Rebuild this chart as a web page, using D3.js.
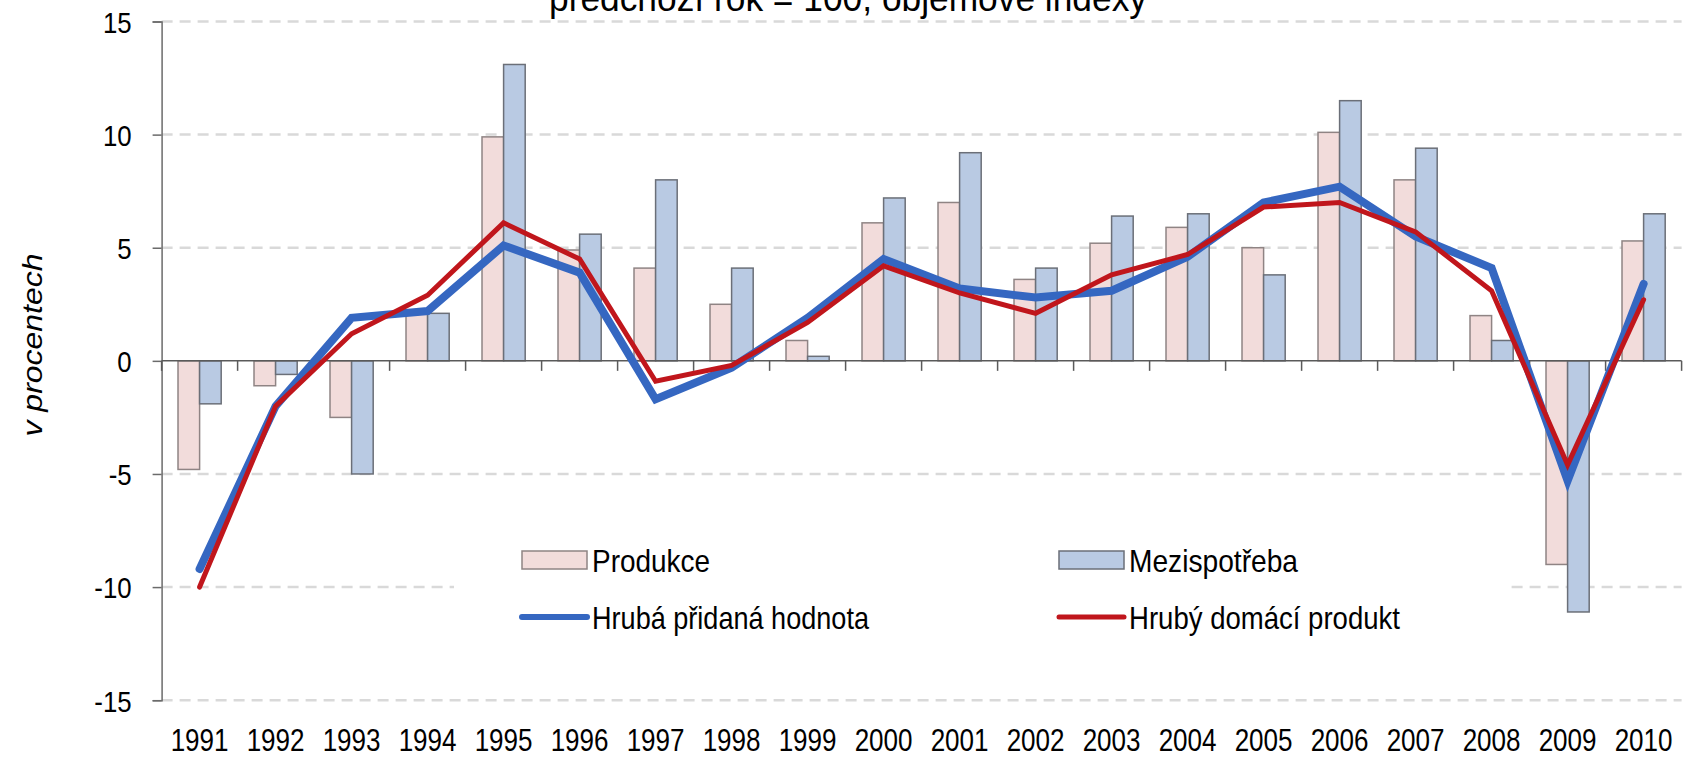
<!DOCTYPE html>
<html>
<head>
<meta charset="utf-8">
<script src="https://cdn.jsdelivr.net/npm/d3@7"></script>
<style>
  body { margin: 0; background: #fff; }
  svg { display: block; font-family: "Liberation Sans", Arial, sans-serif; }
</style>
</head>
<body>
<svg id="chart" width="1689" height="757"></svg>
<script>
// data (mezirocni zmeny, v procentech)
const years = ["1991","1992","1993","1994","1995","1996","1997","1998","1999","2000",
               "2001","2002","2003","2004","2005","2006","2007","2008","2009","2010"];
const produkce    = [-4.8, -1.1, -2.5, 2.1, 9.9, 4.9, 4.1, 2.5, 0.9, 6.1, 7.0, 3.6, 5.2, 5.9, 5.0, 10.1, 8.0, 2.0, -9.0, 5.3];
const mezispotreba = [-1.9, -0.6, -5.0, 2.1, 13.1, 5.6, 8.0, 4.1, 0.2, 7.2, 9.2, 4.1, 6.4, 6.5, 3.8, 11.5, 9.4, 0.9, -11.1, 6.5];
const hph = [-9.2, -2.0, 1.9, 2.2, 5.1, 3.9, -1.7, -0.3, 1.9, 4.5, 3.2, 2.8, 3.1, 4.6, 7.0, 7.7, 5.5, 4.1, -5.3, 3.4];
const hdp = [-10.0, -2.0, 1.2, 2.9, 6.1, 4.5, -0.9, -0.2, 1.7, 4.2, 3.0, 2.1, 3.8, 4.7, 6.8, 7.0, 5.7, 3.1, -4.6, 2.7];
const yTicks = [-15, -10, -5, 0, 5, 10, 15];

const svg = d3.select("#chart");
const plotLeft = 161.6, plotRight = 1681.6, plotTop = 21.5, plotBottom = 700.2;

const x = d3.scaleBand().domain(years).range([plotLeft, plotRight]).padding(0);
const sub = d3.scaleBand().domain(["p", "m"]).range([0, x.bandwidth()]).paddingOuter(0.76);
const y = d3.scaleLinear().domain([-15, 15]).range([plotBottom, plotTop]);

// condense text horizontally like the original picture
function squeeze(sel, k) {
  sel.each(function() {
    const w = this.getComputedTextLength();
    d3.select(this).attr("textLength", w * k).attr("lengthAdjust", "spacingAndGlyphs");
  });
}

// title, cut off at the top like in the reference
svg.append("text")
  .attr("x", 848).attr("y", 11)
  .attr("text-anchor", "middle")
  .style("font-size", "37px")
  .text("předchozí rok = 100, objemové indexy")
  .attr("textLength", 598).attr("lengthAdjust", "spacingAndGlyphs");

// grid
svg.append("g").selectAll("line")
  .data(yTicks.filter(d => d != 0))
  .enter().append("line")
    .attr("x1", plotLeft).attr("x2", plotRight)
    .attr("y1", d => y(d)).attr("y2", d => y(d))
    .attr("stroke", "#d9d9d9")
    .attr("stroke-width", 2.5)
    .attr("stroke-dasharray", "11,7");

// bars
const barData = years.map((yr, i) => [
  { year: yr, key: "p", v: produkce[i] },
  { year: yr, key: "m", v: mezispotreba[i] }
]).flat();

svg.append("g").selectAll("rect")
  .data(barData)
  .enter().append("rect")
    .attr("x", d => x(d.year) + sub(d.key))
    .attr("width", sub.bandwidth())
    .attr("y", d => y(Math.max(0, d.v)))
    .attr("height", d => Math.abs(y(d.v) - y(0)))
    .attr("fill", d => d.key == "p" ? "#f2dcdb" : "#b9cae3")
    .attr("stroke", d => d.key == "p" ? "#8f8484" : "#6b6f78")
    .attr("stroke-width", 1.5);

// axes
const yAxis = svg.append("g")
  .attr("transform", `translate(${plotLeft},0)`)
  .call(d3.axisLeft(y).tickValues(yTicks).tickSize(9).tickPadding(21).tickFormat(d => String(d)));
yAxis.select(".domain").attr("stroke", "#6b6b6b").attr("stroke-width", 1.5);
yAxis.selectAll(".tick line").attr("stroke", "#6b6b6b").attr("stroke-width", 1.5);
yAxis.selectAll("text").style("font-size", "30px").attr("fill", "#000").attr("dy", "0.36em").call(squeeze, 0.86);

const xAxis = svg.append("g")
  .attr("transform", `translate(0,${y(0)})`);
xAxis.append("line")
  .attr("x1", plotLeft).attr("x2", plotRight)
  .attr("stroke", "#5a5a5a").attr("stroke-width", 1.5);
xAxis.selectAll(".sep")
  .data(years.concat(["end"]))
  .enter().append("line")
    .attr("class", "sep")
    .attr("x1", d => d == "end" ? plotRight : x(d))
    .attr("x2", d => d == "end" ? plotRight : x(d))
    .attr("y1", 0).attr("y2", 10)
    .attr("stroke", "#5a5a5a").attr("stroke-width", 1.5);

svg.append("g").selectAll("text")
  .data(years)
  .enter().append("text")
    .attr("x", d => x(d) + x.bandwidth() / 2)
    .attr("y", 751)
    .attr("text-anchor", "middle")
    .style("font-size", "31px")
    .text(d => d)
    .call(squeeze, 0.84);

// lines
const line = d3.line()
  .x((d, i) => x(years[i]) + x.bandwidth() / 2)
  .y(d => y(d));

svg.append("path")
  .datum(hph)
  .attr("d", line)
  .attr("fill", "none")
  .attr("stroke", "#3567c1")
  .attr("stroke-width", 8)
  .attr("stroke-linecap", "round")
  .attr("stroke-linejoin", "miter");

svg.append("path")
  .datum(hdp)
  .attr("d", line)
  .attr("fill", "none")
  .attr("stroke", "#c0161c")
  .attr("stroke-width", 5)
  .attr("stroke-linecap", "round")
  .attr("stroke-linejoin", "miter");

// y axis title
svg.append("text")
  .attr("transform", "translate(42,345) rotate(-90)")
  .attr("text-anchor", "middle")
  .style("font-size", "27px")
  .style("font-style", "italic")
  .text("v procentech")
  .attr("textLength", 183).attr("lengthAdjust", "spacingAndGlyphs");

// legend
const legend = svg.append("g");
legend.append("rect")
  .attr("x", 454).attr("y", 528).attr("width", 1051).attr("height", 115)
  .attr("fill", "#fff");

const legendItems = [
  { name: "Produkce", type: "bar", fill: "#f2dcdb", stroke: "#8f8484", lx: 522, ly: 560, w: 118 },
  { name: "Mezispotřeba", type: "bar", fill: "#b9cae3", stroke: "#6b6f78", lx: 1059, ly: 560, w: 169 },
  { name: "Hrubá přidaná hodnota", type: "line", stroke: "#3567c1", sw: 6, lx: 522, ly: 617, w: 277 },
  { name: "Hrubý domácí produkt", type: "line", stroke: "#c0161c", sw: 5, lx: 1059, ly: 617, w: 271 }
];

legendItems.forEach(it => {
  if (it.type == "bar") {
    legend.append("rect")
      .attr("x", it.lx).attr("y", it.ly - 9).attr("width", 65).attr("height", 18)
      .attr("fill", it.fill).attr("stroke", it.stroke).attr("stroke-width", 1.5);
  } else {
    legend.append("line")
      .attr("x1", it.lx).attr("x2", it.lx + 65)
      .attr("y1", it.ly).attr("y2", it.ly)
      .attr("stroke", it.stroke).attr("stroke-width", it.sw)
      .attr("stroke-linecap", "round");
  }
  legend.append("text")
    .attr("x", it.lx + 70).attr("y", it.ly)
    .attr("dy", "0.36em")
    .style("font-size", "32px")
    .text(it.name)
    .attr("textLength", it.w).attr("lengthAdjust", "spacingAndGlyphs");
});
</script>
</body>
</html>
